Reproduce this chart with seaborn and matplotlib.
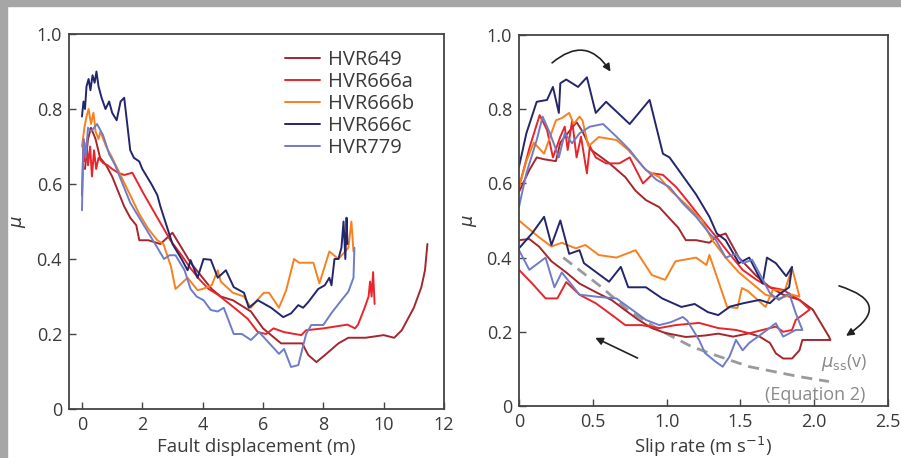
import matplotlib
matplotlib.use("Agg")
from matplotlib import pyplot as plt
from matplotlib.patches import Rectangle
import numpy as np
import pandas as pd
import seaborn as sns

runs = ["HVR649", "HVR666a", "HVR666b", "HVR666c", "HVR779"]
colors = ["#a5262c", "#e8252b", "#f7801f", "#23266b", "#6f7cc6"]

# --- friction vs fault displacement (left) ---
d649 = [0.1, 0.2, 0.3, 0.45, 0.6, 0.8, 1.0, 1.2, 1.4, 1.6, 1.8, 1.9, 2.2, 2.6, 3.0, 3.3, 3.6, 3.9, 4.3, 4.6, 5.0,
        5.6, 6.0, 6.6, 7.3, 7.5, 7.77, 8.07, 8.5, 8.83, 9.4, 10.0, 10.35, 10.6, 11.0, 11.25, 11.37, 11.45]
m649 = [0.64, 0.72, 0.75, 0.72, 0.67, 0.65, 0.62, 0.58, 0.54, 0.51, 0.49, 0.45, 0.45, 0.44, 0.47, 0.43, 0.39, 0.36, 0.32,
        0.30, 0.29, 0.26, 0.215, 0.175, 0.175, 0.144, 0.125, 0.145, 0.175, 0.19, 0.19, 0.197, 0.19, 0.21, 0.27, 0.325,
        0.37, 0.44]
d666a = [0.0, 0.05, 0.1, 0.15, 0.2, 0.27, 0.33, 0.4, 0.47, 0.55, 0.7, 0.85, 1.0, 1.2, 1.4, 1.67, 2.03, 2.5, 2.93, 3.3,
         3.6, 3.9, 4.2, 4.5, 5.05, 5.5, 5.83, 6.1, 6.35, 6.7, 7.27, 7.43, 8.0, 8.4, 8.8, 9.05, 9.15, 9.37, 9.5, 9.55,
         9.6, 9.65, 9.7]
m666a = [0.57, 0.72, 0.66, 0.71, 0.65, 0.70, 0.62, 0.69, 0.64, 0.67, 0.656, 0.65, 0.64, 0.63, 0.624, 0.63, 0.576, 0.51,
         0.45, 0.41, 0.375, 0.345, 0.32, 0.305, 0.27, 0.24, 0.205, 0.20, 0.215, 0.205, 0.197, 0.21, 0.215, 0.22, 0.225,
         0.215, 0.225, 0.27, 0.30, 0.34, 0.30, 0.365, 0.28]
d666b = [0.0, 0.08, 0.15, 0.22, 0.3, 0.38, 0.45, 0.55, 0.61, 0.8, 1.0, 1.3, 1.6, 1.9, 2.2, 2.5, 2.7, 2.95, 3.1, 3.5,
         3.83, 4.0, 4.3, 4.5, 4.6, 5.0, 5.37, 5.6, 5.8, 6.03, 6.2, 6.53, 6.77, 7.03, 7.2, 7.67, 7.87, 8.2, 8.5, 8.83,
         8.93, 9.0]
m666b = [0.70, 0.75, 0.78, 0.80, 0.76, 0.79, 0.74, 0.72, 0.74, 0.70, 0.67, 0.62, 0.57, 0.52, 0.48, 0.45, 0.44, 0.38,
         0.32, 0.35, 0.317, 0.32, 0.33, 0.37, 0.34, 0.31, 0.30, 0.27, 0.29, 0.31, 0.31, 0.27, 0.317, 0.40, 0.39, 0.39,
         0.335, 0.42, 0.40, 0.43, 0.50, 0.42]
d666c = [0.0, 0.05, 0.1, 0.15, 0.22, 0.28, 0.35, 0.42, 0.48, 0.55, 0.65, 0.78, 0.9, 1.0, 1.15, 1.28, 1.4, 1.5, 1.6,
         1.72, 1.9, 2.0, 2.3, 2.5, 2.6, 2.8, 3.0, 3.3, 3.5, 3.6, 3.83, 4.03, 4.27, 4.5, 4.77, 5.03, 5.37, 5.53, 5.83,
         6.27, 6.67, 6.93, 7.17, 7.33, 7.5, 7.83, 8.05, 8.2, 8.27, 8.37, 8.5, 8.6, 8.67, 8.73, 8.77, 8.8]
m666c = [0.78, 0.82, 0.80, 0.86, 0.88, 0.85, 0.89, 0.87, 0.90, 0.86, 0.83, 0.80, 0.82, 0.79, 0.77, 0.82, 0.83, 0.76,
         0.69, 0.67, 0.66, 0.64, 0.60, 0.57, 0.54, 0.49, 0.44, 0.40, 0.37, 0.397, 0.35, 0.40, 0.398, 0.35, 0.37, 0.325,
         0.31, 0.27, 0.29, 0.27, 0.245, 0.255, 0.277, 0.27, 0.285, 0.32, 0.33, 0.35, 0.33, 0.40, 0.40, 0.43, 0.50, 0.40,
         0.51, 0.44]
d779 = [0.0, 0.05, 0.12, 0.2, 0.3, 0.5, 0.7, 0.9, 1.1, 1.3, 1.6, 1.9, 2.2, 2.5, 2.72, 2.9, 3.1, 3.4, 3.6, 3.8, 4.03,
        4.27, 4.5, 4.7, 5.03, 5.3, 5.6, 5.87, 6.27, 6.53, 6.7, 6.93, 7.17, 7.43, 7.6, 8.0, 8.27, 8.6, 8.83, 9.0, 9.03]
m779 = [0.53, 0.72, 0.67, 0.75, 0.74, 0.76, 0.73, 0.68, 0.65, 0.61, 0.55, 0.51, 0.47, 0.43, 0.40, 0.41, 0.41, 0.37, 0.32,
        0.30, 0.29, 0.264, 0.26, 0.27, 0.20, 0.20, 0.184, 0.205, 0.17, 0.147, 0.16, 0.112, 0.117, 0.20, 0.224, 0.224,
        0.256, 0.29, 0.313, 0.35, 0.43]

# --- friction vs slip rate (right), loops in drawing order ---
v649 = [0.0, 0.07, 0.12, 0.17, 0.25, 0.28, 0.34, 0.39, 0.43, 0.49, 0.61, 0.72, 0.79, 0.86, 0.95, 1.01, 1.08, 1.13, 1.2,
        1.29, 1.335, 1.40, 1.49, 1.61, 1.70, 1.79, 1.90, 1.99, 2.10, 2.11, 2.01, 1.92, 1.90, 1.85, 1.79, 1.74, 1.70,
        1.63, 1.56, 1.45, 1.35, 1.26, 1.13, 0.99, 0.90, 0.81, 0.72, 0.63, 0.52, 0.41, 0.32, 0.22, 0.135, 0.07, 0.0]
s649 = [0.577, 0.636, 0.67, 0.665, 0.66, 0.71, 0.74, 0.765, 0.74, 0.69, 0.655, 0.617, 0.58, 0.555, 0.536, 0.51, 0.48,
        0.447, 0.447, 0.44, 0.456, 0.465, 0.40, 0.35, 0.32, 0.30, 0.286, 0.26, 0.187, 0.178, 0.178, 0.178, 0.15, 0.128,
        0.128, 0.142, 0.17, 0.187, 0.196, 0.187, 0.195, 0.19, 0.186, 0.197, 0.21, 0.232, 0.258, 0.285, 0.307, 0.33,
        0.36, 0.39, 0.43, 0.45, 0.447]
v666a = [0.0, 0.074, 0.14, 0.19, 0.23, 0.28, 0.31, 0.33, 0.36, 0.39, 0.42, 0.46, 0.48, 0.52, 0.59, 0.68, 0.75, 0.84,
         0.91, 0.975, 1.065, 1.155, 1.245, 1.335, 1.426, 1.515, 1.61, 1.70, 1.79, 1.90, 1.97, 1.875, 1.85, 1.79, 1.74,
         1.65, 1.56, 1.47, 1.35, 1.22, 1.06, 0.95, 0.83, 0.72, 0.63, 0.52, 0.41, 0.32, 0.26, 0.18, 0.09, 0.0]
s666a = [0.59, 0.70, 0.784, 0.744, 0.67, 0.726, 0.753, 0.69, 0.77, 0.67, 0.726, 0.627, 0.70, 0.67, 0.654, 0.654, 0.67,
         0.60, 0.627, 0.623, 0.59, 0.546, 0.50, 0.456, 0.41, 0.367, 0.34, 0.32, 0.313, 0.286, 0.26, 0.232, 0.205, 0.20,
         0.214, 0.205, 0.196, 0.205, 0.21, 0.224, 0.218, 0.21, 0.218, 0.218, 0.245, 0.277, 0.30, 0.334, 0.29, 0.29,
         0.33, 0.367]
v666b = [0.0, 0.05, 0.10, 0.17, 0.25, 0.29, 0.34, 0.37, 0.41, 0.43, 0.47, 0.54, 0.66, 0.74, 0.86, 0.95, 1.03, 1.15,
         1.24, 1.31, 1.40, 1.49, 1.58, 1.67, 1.76, 1.85, 1.90, 1.85, 1.80, 1.72, 1.67, 1.55, 1.51, 1.48, 1.41, 1.29,
         1.27, 1.20, 1.06, 0.99, 0.90, 0.79, 0.66, 0.54, 0.45, 0.385, 0.29, 0.22, 0.135, 0.0]
s666b = [0.59, 0.66, 0.71, 0.68, 0.77, 0.776, 0.79, 0.76, 0.78, 0.77, 0.70, 0.725, 0.717, 0.69, 0.636, 0.617, 0.58,
         0.536, 0.50, 0.447, 0.40, 0.36, 0.33, 0.30, 0.29, 0.30, 0.295, 0.372, 0.31, 0.313, 0.267, 0.31, 0.318, 0.264,
         0.267, 0.407, 0.38, 0.40, 0.39, 0.34, 0.353, 0.42, 0.40, 0.407, 0.434, 0.425, 0.44, 0.43, 0.455, 0.50]
v666c = [0.0, 0.05, 0.12, 0.19, 0.23, 0.27, 0.28, 0.32, 0.40, 0.46, 0.52, 0.59, 0.75, 0.885, 0.975, 1.02, 1.11, 1.20,
         1.29, 1.34, 1.40, 1.49, 1.56, 1.65, 1.68, 1.74, 1.81, 1.85, 1.83, 1.76, 1.70, 1.63, 1.52, 1.43, 1.35, 1.28,
         1.19, 1.10, 0.97, 0.86, 0.74, 0.69, 0.61, 0.44, 0.41, 0.34, 0.28, 0.22, 0.17, 0.09, 0.0]
s666c = [0.645, 0.735, 0.82, 0.825, 0.86, 0.79, 0.87, 0.88, 0.86, 0.886, 0.79, 0.82, 0.76, 0.825, 0.68, 0.67, 0.62,
         0.57, 0.51, 0.465, 0.447, 0.385, 0.40, 0.33, 0.40, 0.385, 0.35, 0.375, 0.32, 0.30, 0.277, 0.286, 0.277, 0.268,
         0.245, 0.253, 0.275, 0.267, 0.29, 0.32, 0.32, 0.375, 0.335, 0.385, 0.42, 0.41, 0.50, 0.434, 0.51, 0.466, 0.425]
v779 = [0.0, 0.05, 0.12, 0.16, 0.21, 0.27, 0.31, 0.36, 0.41, 0.48, 0.57, 0.66, 0.75, 0.84, 0.93, 1.02, 1.11, 1.20, 1.29,
        1.335, 1.40, 1.47, 1.515, 1.58, 1.63, 1.70, 1.76, 1.83, 1.875, 1.92, 1.875, 1.79, 1.74, 1.65, 1.56, 1.515, 1.47,
        1.426, 1.38, 1.33, 1.26, 1.22, 1.14, 1.11, 1.03, 0.95, 0.86, 0.74, 0.66, 0.54, 0.41, 0.29, 0.24, 0.18, 0.07, 0.0]
s779 = [0.537, 0.627, 0.717, 0.78, 0.735, 0.67, 0.735, 0.708, 0.735, 0.753, 0.76, 0.726, 0.69, 0.645, 0.61, 0.59, 0.546,
        0.51, 0.465, 0.447, 0.40, 0.41, 0.385, 0.394, 0.357, 0.304, 0.286, 0.304, 0.25, 0.205, 0.205, 0.187, 0.223,
        0.196, 0.17, 0.15, 0.178, 0.133, 0.106, 0.12, 0.143, 0.178, 0.23, 0.24, 0.226, 0.218, 0.232, 0.267, 0.29,
        0.294, 0.30, 0.36, 0.32, 0.40, 0.367, 0.42]

# steady-state friction curve (Equation 2)
v_ss = [0.30, 0.56, 0.74, 0.95, 1.17, 1.33, 1.56, 1.90, 2.10]
mu_ss = [0.40, 0.32, 0.258, 0.205, 0.16, 0.137, 0.106, 0.079, 0.066]


def make_df(xs, ys, xname):
    parts = []
    for run, x, y in zip(runs, xs, ys):
        parts.append(pd.DataFrame({xname: x, "mu": y, "run": run}))
    return pd.concat(parts, ignore_index=True)


disp_df = make_df([d649, d666a, d666b, d666c, d779], [m649, m666a, m666b, m666c, m779], "disp")
rate_df = make_df([v649, v666a, v666b, v666c, v779], [s649, s666a, s666b, s666c, s779], "rate")

sns.set_theme(style="ticks")
plt.rcParams["font.family"] = ["Open Sans", "DejaVu Sans"]
plt.rcParams["mathtext.fontset"] = "dejavusans"
txt = "#3a3a3a"
spine_c = "#444444"

fig = plt.figure(figsize=(9.01, 4.58), dpi=100)
fig.patch.set_facecolor("white")
fig.patches.append(Rectangle((0, 1 - 6 / 458), 1, 6 / 458, transform=fig.transFigure, color="#a6a6a6", zorder=0))
fig.patches.append(Rectangle((0, 0), 7 / 901, 1, transform=fig.transFigure, color="#a6a6a6", zorder=0))

ax1 = fig.add_axes([69 / 901, 49 / 458, 375 / 901, 375 / 458])
ax2 = fig.add_axes([519 / 901, 52 / 458, 369 / 901, 371 / 458])

pal = dict(zip(runs, colors))
sns.lineplot(data=disp_df, x="disp", y="mu", hue="run", palette=pal, sort=False, estimator=None,
             linewidth=1.4, ax=ax1)
sns.lineplot(data=rate_df, x="rate", y="mu", hue="run", palette=pal, sort=False, estimator=None,
             linewidth=1.4, ax=ax2, legend=False)
ax2.plot(v_ss, mu_ss, color="#9a9a9a", lw=2.0, ls=(0, (4, 2.5)), zorder=1)

for ax in (ax1, ax2):
    ax.set_ylim(0, 1.0)
    ax.set_yticks([0, 0.2, 0.4, 0.6, 0.8, 1.0])
    ax.set_yticklabels(["0", "0.2", "0.4", "0.6", "0.8", "1.0"])
    ax.tick_params(direction="in", length=5, width=1, colors=spine_c, labelcolor=txt, labelsize=13, pad=5)
    for s in ax.spines.values():
        s.set_color(spine_c)
        s.set_linewidth(1.3)
    ax.set_ylabel(r"$\mu$", fontsize=13, color=txt)

ax1.set_xlim(-0.43, 12)
ax1.set_xticks([0, 2, 4, 6, 8, 10, 12])
ax1.set_xticklabels(["0", "2", "4", "6", "8", "10", "12"])
ax1.set_xlabel("Fault displacement (m)", fontsize=13.5, color=txt, labelpad=3)
ax1.yaxis.set_label_coords(-0.11, 0.5)

ax2.set_xlim(0, 2.5)
ax2.set_xticks([0, 0.5, 1.0, 1.5, 2.0, 2.5])
ax2.set_xticklabels(["0", "0.5", "1.0", "1.5", "2.0", "2.5"])
ax2.set_xlabel(r"Slip rate (m s$^{-1}$)", fontsize=13.3, color=txt, labelpad=3)
ax2.yaxis.set_label_coords(-0.108, 0.5)

leg = ax1.legend(loc="upper left", bbox_to_anchor=(0.55, 0.985), frameon=False, fontsize=14.5,
                 handlelength=1.7, handletextpad=0.4, labelspacing=0.1, borderpad=0)
for t in leg.get_texts():
    t.set_color(txt)

# arrows showing the loop direction
arrow_kw = dict(arrowstyle="-|>", color="#222222", lw=1.2, mutation_scale=11)
ax2.annotate("", xy=(0.63, 0.895), xytext=(0.21, 0.92),
             arrowprops=dict(connectionstyle="arc3,rad=-0.6", **arrow_kw))
ax2.annotate("", xy=(2.20, 0.185), xytext=(2.15, 0.326),
             arrowprops=dict(connectionstyle="arc3,rad=-1.1", **arrow_kw))
ax2.annotate("", xy=(0.50, 0.187), xytext=(0.82, 0.126), arrowprops=arrow_kw)

ax2.text(2.20, 0.118, r"$\mu_{\rm ss}$(v)", color="#8a8a8a", fontsize=13, ha="center", va="center")
ax2.text(2.01, 0.03, "(Equation 2)", color="#8a8a8a", fontsize=13, ha="center", va="center")

fig.savefig("out.png", dpi=100)
